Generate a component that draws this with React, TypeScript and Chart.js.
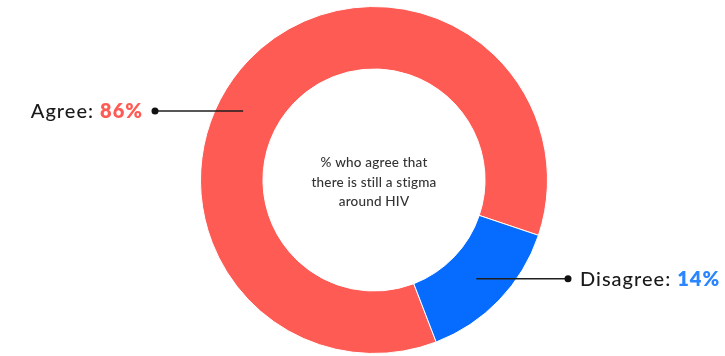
import React, { useEffect, useRef } from "react";
import { Chart, registerables } from "chart.js";

Chart.register(...registerables);

const categories = ["Agree", "Disagree"];
const values = [86, 14];
const valueLabels = ["86%", "14%"];
const colors = ["#FF5B55", "#066CFF"];
const labelColors = ["#FF5B55", "#2A85FF"];
const centerLines = ["% who agree that", "there is still a stigma", "around HIV"];

const FONT = "Lato, 'Open Sans', sans-serif";

const calloutPlugin = {
  id: "callouts",
  afterDatasetsDraw(chart: any) {
    const ctx = chart.ctx as any;
    const meta = chart.getDatasetMeta(0);
    const first = meta.data[0];
    const cx = first.x;
    const cy = first.y;
    const inner = first.innerRadius;
    const outer = first.outerRadius;
    const mid = (inner + outer) / 2;

    // center text
    ctx.save();
    ctx.fillStyle = "#333333";
    ctx.font = `500 13.5px ${FONT}`;
    ctx.letterSpacing = "0.2px";
    ctx.textAlign = "center";
    ctx.textBaseline = "middle";
    const lh = 19.5;
    centerLines.forEach((ln, i) => {
      ctx.fillText(ln, cx, cy - 17 + i * lh);
    });
    ctx.restore();

    const specs = [
      { angle: 207.8, rf: 1.04, dotX: 155, side: -1 },
      { angle: 44, rf: 1.0, dotX: 568, side: 1 },
    ];
    specs.forEach((s, i) => {
      const a = (s.angle * Math.PI) / 180;
      const r = mid * s.rf;
      const ax = cx + r * Math.cos(a);
      const ay = cy + r * Math.sin(a);
      ctx.save();
      ctx.strokeStyle = "#1e1e1e";
      ctx.lineWidth = 1.5;
      ctx.beginPath();
      ctx.moveTo(ax, ay);
      ctx.lineTo(s.dotX, ay);
      ctx.stroke();
      ctx.fillStyle = "#111";
      ctx.beginPath();
      ctx.arc(s.dotX, ay, 3.5, 0, Math.PI * 2);
      ctx.fill();

      const fs = 20;
      const nameText = categories[i] + ": ";
      ctx.textBaseline = "middle";
      ctx.letterSpacing = "1px";
      ctx.font = `500 ${fs}px ${FONT}`;
      const w1 = ctx.measureText(nameText).width;
      ctx.font = `800 ${fs}px ${FONT}`;
      const w2 = ctx.measureText(valueLabels[i]).width;
      let x0: number;
      if (s.side < 0) x0 = s.dotX - 12 - (w1 + w2);
      else x0 = s.dotX + 12;
      ctx.textAlign = "left";
      ctx.font = `500 ${fs}px ${FONT}`;
      ctx.fillStyle = "#1a1a1a";
      ctx.fillText(nameText, x0, ay + 1);
      ctx.font = `800 ${fs}px ${FONT}`;
      ctx.fillStyle = labelColors[i];
      ctx.fillText(valueLabels[i], x0 + w1, ay + 1);
      ctx.restore();
    });
  },
};

export default function App() {
  const ref = useRef<HTMLCanvasElement>(null);
  useEffect(() => {
    document.body.style.margin = "0";
    const chart = new Chart(ref.current!, {
      type: "doughnut",
      data: {
        labels: categories,
        datasets: [
          {
            data: values,
            backgroundColor: colors,
            borderColor: "#ffffff",
            borderWidth: 1,
          },
        ],
      },
      options: {
        animation: false,
        responsive: false,
        maintainAspectRatio: false,
        rotation: 159,
        cutout: "64%",
        layout: { padding: { left: 200, right: 177, top: 6, bottom: 2 } },
        plugins: {
          legend: { display: false },
          tooltip: { enabled: false },
        },
      },
      plugins: [calloutPlugin],
    });
    return () => chart.destroy();
  }, []);
  return (
    <div style={{ position: "fixed", left: 0, top: 0, width: 725, height: 356, background: "#fff" }}>
      <canvas ref={ref} width={725} height={356} style={{ width: 725, height: 356, display: "block" }} />
    </div>
  );
}
